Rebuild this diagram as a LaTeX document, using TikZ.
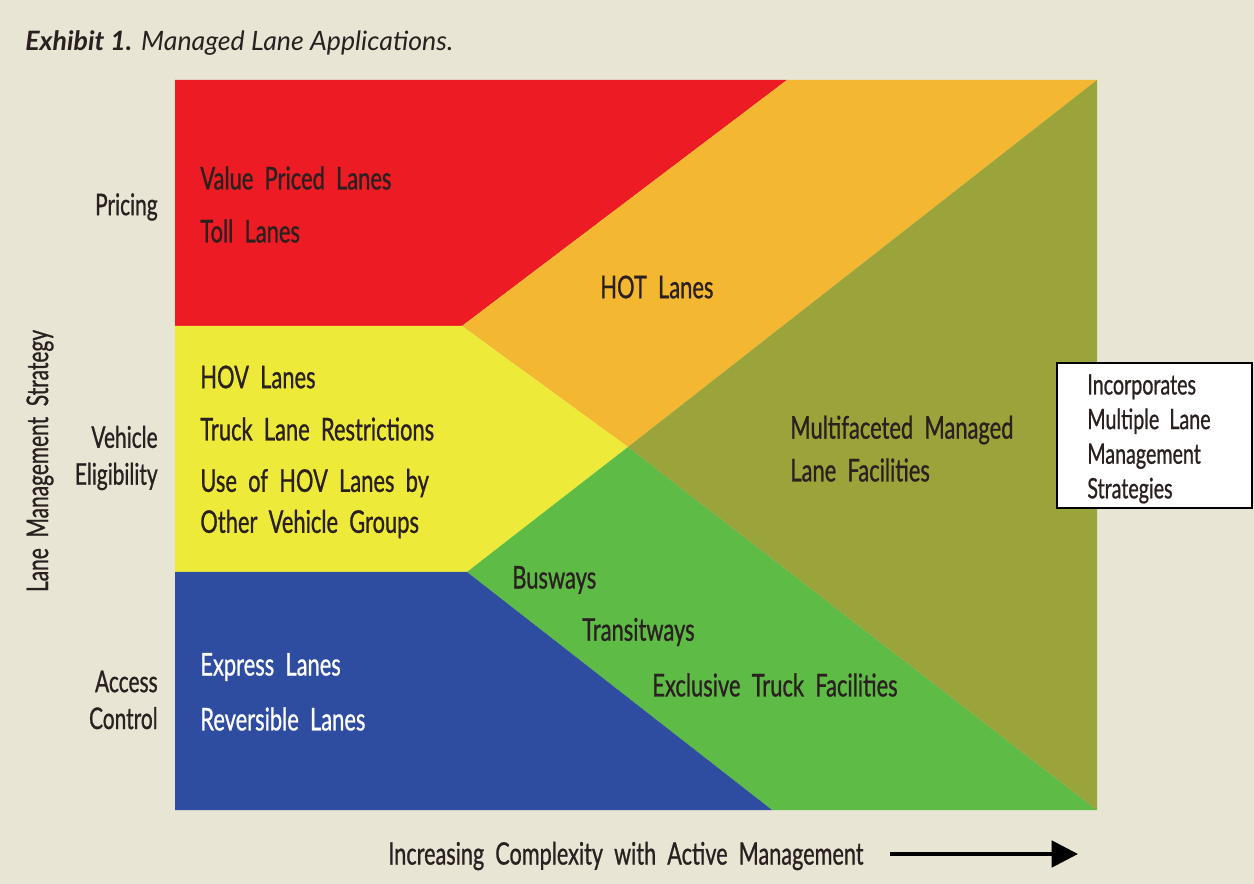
\documentclass[tikz,border=0pt]{standalone}
\usepackage{fontspec}
\usetikzlibrary{arrows.meta}
\setmainfont{Lato}
\newfontfamily\narrowfont{Lato}[FakeStretch=0.7, FakeBold=0.8]

\definecolor{paper}{HTML}{E8E5D5}
\definecolor{ink}{HTML}{2A2020}
\definecolor{pricered}{HTML}{ED1C24}
\definecolor{hotorange}{HTML}{F4B731}
\definecolor{hovyellow}{HTML}{EEEA3A}
\definecolor{busgreen}{HTML}{5DBB46}
\definecolor{accessblue}{HTML}{2E4DA0}
\definecolor{mixolive}{HTML}{9BA43A}

\begin{document}
\begin{tikzpicture}[x=0.02cm, y=-0.02cm,
    lbl/.style={font=\narrowfont\fontsize{17.8}{20}\selectfont, text=ink, anchor=west, inner sep=0pt},
    axislbl/.style={font=\narrowfont\fontsize{17}{20}\selectfont, text=ink, anchor=east, align=right, inner sep=0pt}]

    % Fondo
    \fill[paper] (0,0) rectangle (1254,884);
    \useasboundingbox (0,0) rectangle (1254,884);

    % Titulo
    \node[anchor=base west, inner sep=0pt, text=ink, font=\fontsize{15.2}{17}\selectfont] (title) at (25,51)
        {\textbf{\textit{Exhibit 1.}} \textit{Managed Lane Applications.}};

    % Regiones de colores
    \fill[pricered] (175,80) -- (787,80) -- (462,326) -- (175,326) -- cycle;
    \fill[hotorange] (787,80) -- (1097,80) -- (628,447) -- (462,326) -- cycle;
    \fill[hovyellow] (175,326) -- (462,326) -- (628,447) -- (467,572) -- (175,572) -- cycle;
    \fill[busgreen] (467,572) -- (628,447) -- (1097,810) -- (772,810) -- cycle;
    \fill[accessblue] (175,572) -- (467,572) -- (772,810) -- (175,810) -- cycle;
    \fill[mixolive] (628,447) -- (1097,80) -- (1097,810) -- cycle;

    % Etiquetas del eje vertical
    \node[axislbl] (pricing) at (158,207) {Pricing};
    \node[axislbl] (vehicle) at (158,458) {Vehicle\\[1pt]Eligibility};
    \node[axislbl] (access) at (158,700) {Access\\[1pt]Control};
    \node[axislbl, anchor=center, rotate=90, font=\narrowfont\fontsize{17}{20}\selectfont] (strategy) at (40,461) {Lane\ \ Management\ \ Strategy};

    % Textos dentro de las regiones
    \node[lbl] (value) at (200,178) {Value\ \ Priced\ \ Lanes};
    \node[lbl] (toll) at (200,231) {Toll\ \ Lanes};
    \node[lbl] (hot) at (600,287) {HOT\ \ Lanes};
    \node[lbl] (hov) at (200,377) {HOV\ \ Lanes};
    \node[lbl] (truckrest) at (200,429) {Truck\ \ Lane\ \ Restrictions};
    \node[lbl] (usehov) at (200,483) {Use\ \ of\ \ HOV\ \ Lanes\ \ by};
    \node[lbl] (othergroups) at (200,524) {Other\ \ Vehicle\ \ Groups};
    \node[lbl] (multi) at (790,430) {Multifaceted\ \ Managed};
    \node[lbl] (facil) at (790,470) {Lane\ \ Facilities};
    \node[lbl] (bus) at (512,580) {Busways};
    \node[lbl] (transit) at (582,632) {Transitways};
    \node[lbl] (excl) at (652,685) {Exclusive\ \ Truck\ \ Facilities};
    \node[lbl, text=white] (express) at (200,667) {Express\ \ Lanes};
    \node[lbl, text=white] (revers) at (200,719) {Reversible\ \ Lanes};

    % Recuadro a la derecha
    \draw[black, line width=1pt, fill=white] (1057,363) rectangle (1252,508);
    \node[lbl, anchor=north west, align=left, font=\narrowfont\fontsize{16}{19.7}\selectfont] (incorp) at (1087,374)
        {Incorporates\\Multiple\ \ Lane\\Management\\Strategies};

    % Eje horizontal con flecha
    \node[lbl, font=\narrowfont\fontsize{17.6}{20}\selectfont] (complexity) at (388,856) {Increasing\ \ Complexity\ \ with\ \ Active\ \ Management};
    \coordinate (arrowstart) at (890,854);
    \coordinate (arrowend) at (1078,854);
    \draw[-{Triangle[length=15pt, width=15pt]}, line width=2.2pt, black] (arrowstart) -- (arrowend);

\end{tikzpicture}
\end{document}
